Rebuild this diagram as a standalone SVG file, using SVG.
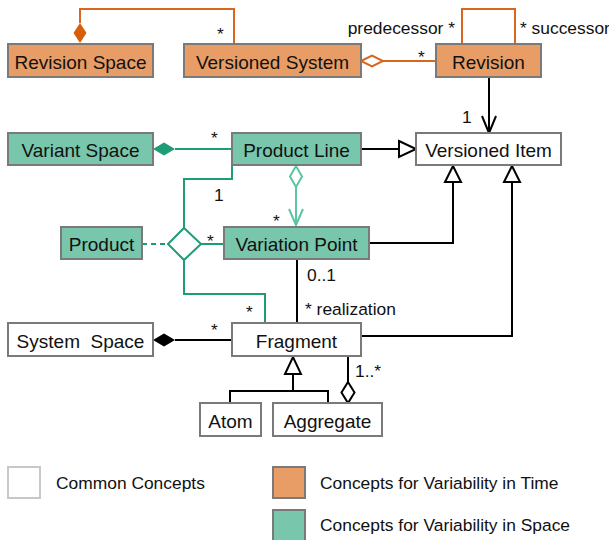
<svg xmlns="http://www.w3.org/2000/svg" width="609" height="540" viewBox="0 0 609 540">
<style>
.box{stroke:#7a7a7a;stroke-width:2}
.c{fill:#fff}
.t{fill:#E89D66}
.s{fill:#78C7AC}
.lbl{font-family:"Liberation Sans",Arial,sans-serif;font-size:19px;fill:#111;text-anchor:middle}
.sm{font-family:"Liberation Sans",Arial,sans-serif;font-size:17.4px;fill:#111}
.k{stroke:#000;stroke-width:2;fill:none}
.o{stroke:#D9661F;stroke-width:2;fill:none}
.g{stroke:#1E9C78;stroke-width:2;fill:none}
.lg{stroke:#5CC6A0;stroke-width:2;fill:none}
</style>
<rect width="609" height="540" fill="#fff"/>
<g id="connectors">
  <path class="o" d="M80,23 V9 H234 V44"/>
  <polygon points="80,23 86.5,33 80,43 73.5,33" fill="#D65F0A"/>
  <path class="o" d="M462,44 V9 H515 V44"/>
  <path class="o" d="M383,61 H436"/>
  <polygon points="361,61 372,55.5 383,61 372,66.5" fill="#fff" stroke="#D9661F" stroke-width="2"/>
  <path class="k" d="M489,77 V133 M482,116 L489,133 L496,116"/>
  <path class="g" d="M175,149 H232"/>
  <polygon points="153,149 164,142.5 175,149 164,155.5" fill="#1E9C78"/>
  <path class="k" d="M361,149 H399"/>
  <polygon points="399,141 416,149 399,157" fill="#fff" stroke="#000" stroke-width="2"/>
  <polygon points="296,166 302,176.5 296,187 290,176.5" fill="#fff" stroke="#5CC6A0" stroke-width="2"/>
  <path class="lg" d="M296,187 V225 M289,209 L296,225 L303,209"/>
  <path class="g" d="M232,165 V179 H184 V228"/>
  <polygon points="184,228 201,244 184,260 168,244" fill="#fff" stroke="#1E9C78" stroke-width="2"/>
  <path class="g" d="M142,244 H168" stroke-dasharray="5,4"/>
  <path class="g" d="M201,244 H224"/>
  <path class="g" d="M184,260 V294 H265 V323"/>
  <path class="k" d="M369,243 H453 V182"/>
  <polygon points="445,182 453,166 461,182" fill="#fff" stroke="#000" stroke-width="2"/>
  <path class="k" d="M361,336 H512 V182"/>
  <polygon points="504,182 512,166 520,182" fill="#fff" stroke="#000" stroke-width="2"/>
  <path class="k" d="M297,259 V323"/>
  <path class="k" d="M175,340 H232"/>
  <polygon points="153,340 164,333.5 175,340 164,346.5" fill="#000"/>
  <path class="k" d="M293,374 V391 M230,403 V391 H328 V403"/>
  <polygon points="285,374 293,357 301,374" fill="#fff" stroke="#000" stroke-width="2"/>
  <path class="k" d="M348,356 V382"/>
  <polygon points="348,382 354.5,392.5 348,403 341.5,392.5" fill="#fff" stroke="#000" stroke-width="2"/>
  <text class="sm" x="217" y="40">*</text>
  <text class="sm" x="455" y="34" text-anchor="end">predecessor *</text>
  <text class="sm" x="520" y="34">* successor</text>
  <text class="sm" x="418" y="63">*</text>
  <text class="sm" x="462" y="123">1</text>
  <text class="sm" x="211" y="144">*</text>
  <text class="sm" x="273" y="227">*</text>
  <text class="sm" x="214" y="201">1</text>
  <text class="sm" x="207" y="247">*</text>
  <text class="sm" x="246" y="318">*</text>
  <text class="sm" x="307" y="281">0..1</text>
  <text class="sm" x="305" y="315">* realization</text>
  <text class="sm" x="211" y="336">*</text>
  <text class="sm" x="355" y="377">1..*</text>
</g>
<g id="revision-space"><rect class="box t" x="8" y="44" width="145" height="33"/><text class="lbl" x="80.5" y="69">Revision Space</text></g>
<g id="versioned-system"><rect class="box t" x="184" y="44" width="177" height="33"/><text class="lbl" x="272.5" y="69">Versioned System</text></g>
<g id="revision"><rect class="box t" x="436" y="44" width="105" height="33"/><text class="lbl" x="488.5" y="69">Revision</text></g>
<g id="variant-space"><rect class="box s" x="8" y="133" width="145" height="32"/><text class="lbl" x="80.5" y="157">Variant Space</text></g>
<g id="product-line"><rect class="box s" x="232" y="133" width="129" height="32"/><text class="lbl" x="296.5" y="157">Product Line</text></g>
<g id="versioned-item"><rect class="box c" x="416" y="133" width="145" height="32"/><text class="lbl" x="488.5" y="157">Versioned Item</text></g>
<g id="product"><rect class="box s" x="61" y="227" width="81" height="32"/><text class="lbl" x="101.5" y="251">Product</text></g>
<g id="variation-point"><rect class="box s" x="224" y="227" width="145" height="32"/><text class="lbl" x="296.5" y="251">Variation Point</text></g>
<g id="system-space"><rect class="box c" x="8" y="323" width="145" height="33"/><text class="lbl" x="80.5" y="348" xml:space="preserve">System  Space</text></g>
<g id="fragment"><rect class="box c" x="232" y="323" width="129" height="33"/><text class="lbl" x="296.5" y="348">Fragment</text></g>
<g id="atom"><rect class="box c" x="200" y="403" width="61" height="33"/><text class="lbl" x="230.5" y="428">Atom</text></g>
<g id="aggregate"><rect class="box c" x="273" y="403" width="109" height="33"/><text class="lbl" x="327.5" y="428">Aggregate</text></g>
<g id="legend">
  <rect x="8" y="467" width="32" height="31" fill="#fff" stroke="#c8c8c8" stroke-width="2"/>
  <text class="sm" x="56" y="489">Common Concepts</text>
  <rect class="box t" x="273" y="467" width="32" height="31"/>
  <text class="sm" x="320" y="489">Concepts for Variability in Time</text>
  <rect class="box s" x="273" y="510" width="32" height="31"/>
  <text class="sm" x="320" y="531">Concepts for Variability in Space</text>
</g>
</svg>
